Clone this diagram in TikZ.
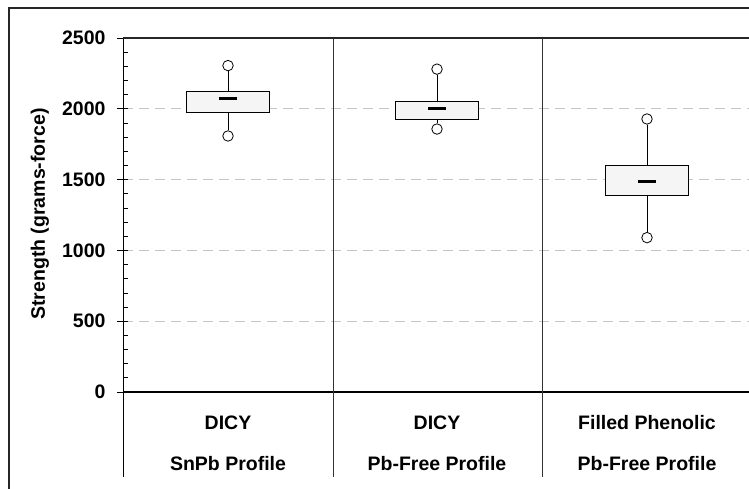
\documentclass[tikz,border=0pt]{standalone}
\usepackage{fontspec}
\setmainfont{Liberation Sans}
\usepackage{tikz}

\begin{document}
\begin{tikzpicture}
[x=1pt,y=1pt]
\tikzset{lbl/.style={font=\fontsize{19.5}{21}\selectfont\bfseries}}
\tikzset{outl/.style={circle,draw,fill=white,inner sep=0pt,minimum size=10.5pt,line width=0.8pt}}
\tikzset{grid/.style={draw=gray!45,dash pattern=on 10pt off 6pt,line width=0.8pt}}
\tikzset{boxq/.style={draw,fill=black!4,line width=0.8pt}}
\useasboundingbox (0,0) rectangle (749,489);
% outer frame
\draw [line width=1.6pt,black!85] (9,0) -- (9,481) -- (749,481);

\begin{scope}[shift={(123,97)},y=0.1416pt]
\foreach \v in {500,1000,1500,2000}
	\draw [grid] (0,\v) -- (626,\v);
\foreach \v in {100,200,...,2400}
	\draw [line width=0.7pt] (0,\v) -- (5,\v);
\foreach \v in {0,500,...,2500}{
	\draw [line width=0.8pt] (-6,\v) -- (0,\v);
	\node [lbl,anchor=east] (t\v) at (-14,\v) {\v};
}
% axes and category dividers
\draw [line width=1pt] (0,-600) -- (0,2500);
\draw [line width=1.4pt,black!85] (0,2500) -- (626,2500);
\draw [line width=1.3pt] (0,0) -- (626,0);
\foreach \c in {210,419}
	\draw [line width=0.9pt,black!80] (\c,-600) -- (\c,2500);

% boxes: centre/min/q1/median/q3/max
\foreach \i/\x/\mn/\qa/\md/\qc/\mx in {1/105/1808/1977/2070/2126/2305,2/314/1857/1927/2000/2055/2280,3/524/1090/1390/1490/1602/1928}{
	\filldraw [boxq] (\x-41.5,\qa) rectangle (\x+41.5,\qc);
	\coordinate (qa\i) at (\x,\qa);
	\coordinate (qc\i) at (\x,\qc);
	\node [outl] (hi\i) at (\x,\mx) {};
	\node [outl] (lo\i) at (\x,\mn) {};
	\draw [line width=0.8pt] (hi\i) -- (qc\i);
	\draw [line width=0.8pt] (lo\i) -- (qa\i);
	\draw [line width=3pt] (\x-9,\md) -- (\x+9,\md);
}
\end{scope}

\node [lbl,rotate=90] (ylab) at (40,275) {Strength (grams-force)};
\node [lbl,anchor=base] (m1) at (228,59) {DICY};
\node [lbl,anchor=base] (m2) at (437,59) {DICY};
\node [lbl,anchor=base] (m3) at (647,59) {Filled Phenolic};
\node [lbl,anchor=base] (p1) at (228,18) {SnPb Profile};
\node [lbl,anchor=base] (p2) at (437,18) {Pb-Free Profile};
\node [lbl,anchor=base] (p3) at (647,18) {Pb-Free Profile};

\end{tikzpicture}
\end{document}
